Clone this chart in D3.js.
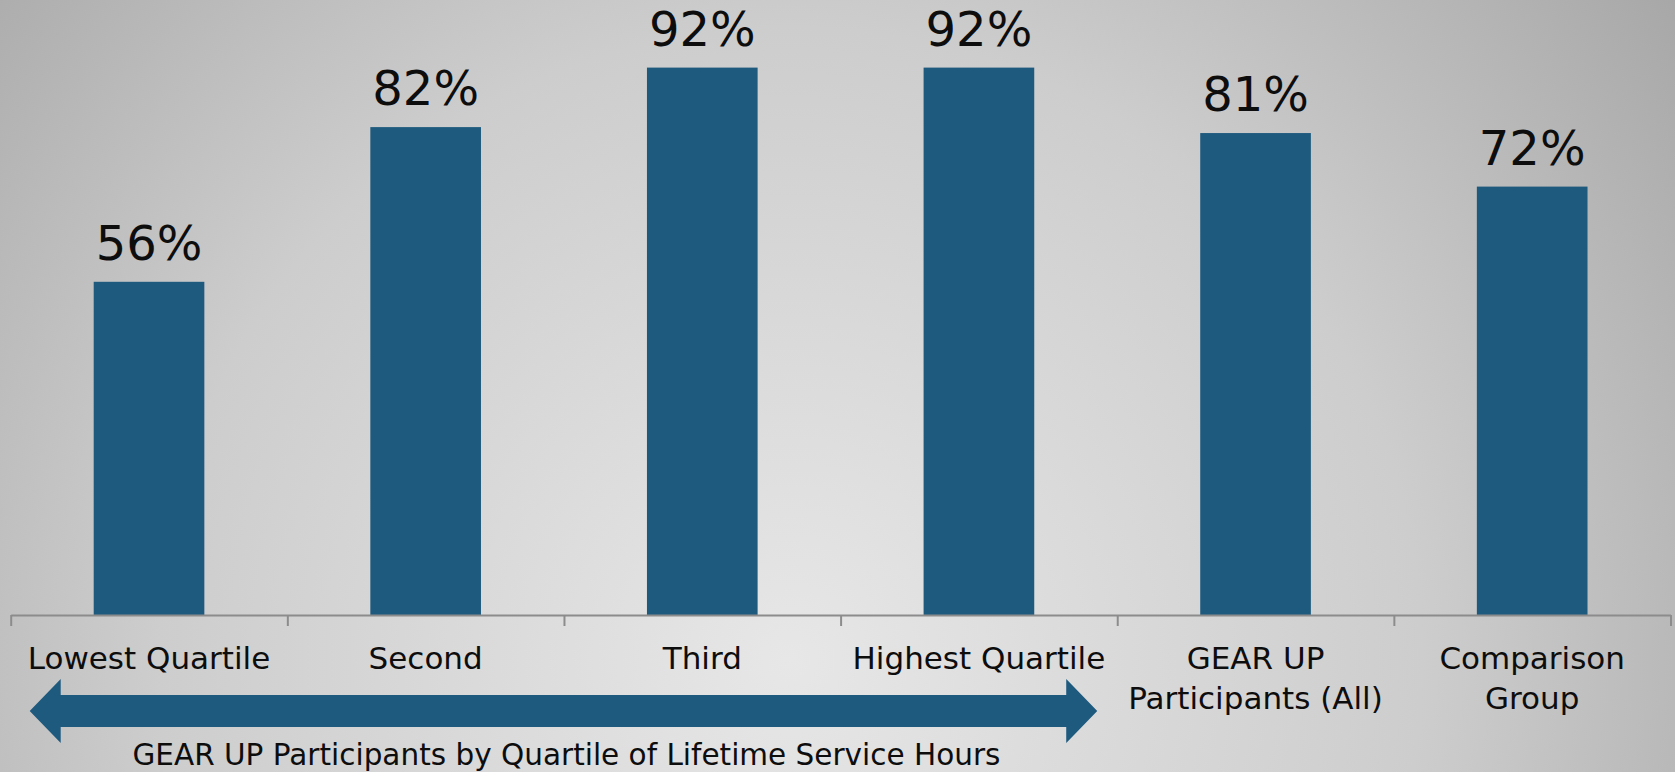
<!DOCTYPE html>
<html>
<head>
<meta charset="utf-8">
<script src="https://cdn.jsdelivr.net/npm/d3@7"></script>
<style>
  html, body { margin: 0; padding: 0; overflow: hidden; }
  svg { display: block; }
  text { font-family: "DejaVu Sans", sans-serif; fill: #0d0d0d; }
</style>
</head>
<body>
<svg id="chart"></svg>
<script>
// data
const categories = [
  ["Lowest Quartile"],
  ["Second"],
  ["Third"],
  ["Highest Quartile"],
  ["GEAR UP", "Participants (All)"],
  ["Comparison", "Group"]
];
const values = [56, 82, 92, 92, 81, 72];
const groupLabel = "GEAR UP Participants by Quartile of Lifetime Service Hours";
const groupSpan = [0, 3]; // the quartile bars covered by the arrow

const width = 1675, height = 772;
const barColor = "#1e5a7e";

const svg = d3.select("#chart").attr("width", width).attr("height", height);

// background: soft radial grey like the slide
const defs = svg.append("defs");
const grad = defs.append("radialGradient")
  .attr("id", "bg")
  .attr("gradientUnits", "userSpaceOnUse")
  .attr("cx", 790).attr("cy", 660).attr("r", 1150);
grad.append("stop").attr("offset", 0).attr("stop-color", "#e7e7e7");
grad.append("stop").attr("offset", 0.55).attr("stop-color", "#cdcdcd");
grad.append("stop").attr("offset", 1).attr("stop-color", "#a4a4a4");
svg.append("rect").attr("width", width).attr("height", height).attr("fill", "url(#bg)");

const x = d3.scaleBand()
  .domain(d3.range(categories.length))
  .range([10.7, 1670.5]);
const y = d3.scaleLinear().domain([0, 100]).range([615, 20]);
const barW = x.bandwidth() * 0.4;

// bars
svg.append("g").selectAll("rect")
  .data(values)
  .join("rect")
  .attr("x", (d, i) => x(i) + (x.bandwidth() - barW) / 2)
  .attr("y", d => y(d))
  .attr("width", barW)
  .attr("height", d => y(0) - y(d))
  .attr("fill", barColor);

// value labels
svg.append("g").selectAll("text")
  .data(values)
  .join("text")
  .attr("x", (d, i) => x(i) + x.bandwidth() / 2)
  .attr("y", d => y(d) - 22)
  .attr("text-anchor", "middle")
  .attr("font-size", "48px")
  .text(d => d + "%");

// category axis, ticks sit between the bands
const edges = d3.scaleLinear().domain([0, categories.length]).range(x.range());
svg.append("g")
  .attr("transform", `translate(0,${y(0)})`)
  .call(d3.axisBottom(edges)
    .tickValues(d3.range(categories.length + 1))
    .tickSize(11)
    .tickSizeOuter(0)
    .tickFormat(""))
  .call(g => g.selectAll("path, line").attr("stroke", "#8c8c8c").attr("stroke-width", 2));

// category labels
const cat = svg.append("g").selectAll("text")
  .data(categories)
  .join("text")
  .attr("text-anchor", "middle")
  .attr("font-size", "31px");
cat.selectAll("tspan")
  .data((d, i) => d.map(t => ({ t, i })))
  .join("tspan")
  .attr("x", d => x(d.i) + x.bandwidth() / 2)
  .attr("y", (d, j) => 669 + j * 40)
  .text(d => d.t);

// double headed arrow under the quartile groups
const ax0 = x(groupSpan[0]) + 19,
  ax1 = x(groupSpan[1]) + x.bandwidth() - 20,
  ay = 711, head = 31, hh = 32, sh = 16;
svg.append("path")
  .attr("d", [
    `M${ax0},${ay}`,
    `L${ax0 + head},${ay - hh}`,
    `L${ax0 + head},${ay - sh}`,
    `L${ax1 - head},${ay - sh}`,
    `L${ax1 - head},${ay - hh}`,
    `L${ax1},${ay}`,
    `L${ax1 - head},${ay + hh}`,
    `L${ax1 - head},${ay + sh}`,
    `L${ax0 + head},${ay + sh}`,
    `L${ax0 + head},${ay + hh}`,
    "Z"
  ].join(" "))
  .attr("fill", barColor);

svg.append("text")
  .attr("x", (ax0 + ax1) / 2 + 3)
  .attr("y", 765)
  .attr("text-anchor", "middle")
  .attr("font-size", "29.5px")
  .text(groupLabel);
</script>
</body>
</html>
